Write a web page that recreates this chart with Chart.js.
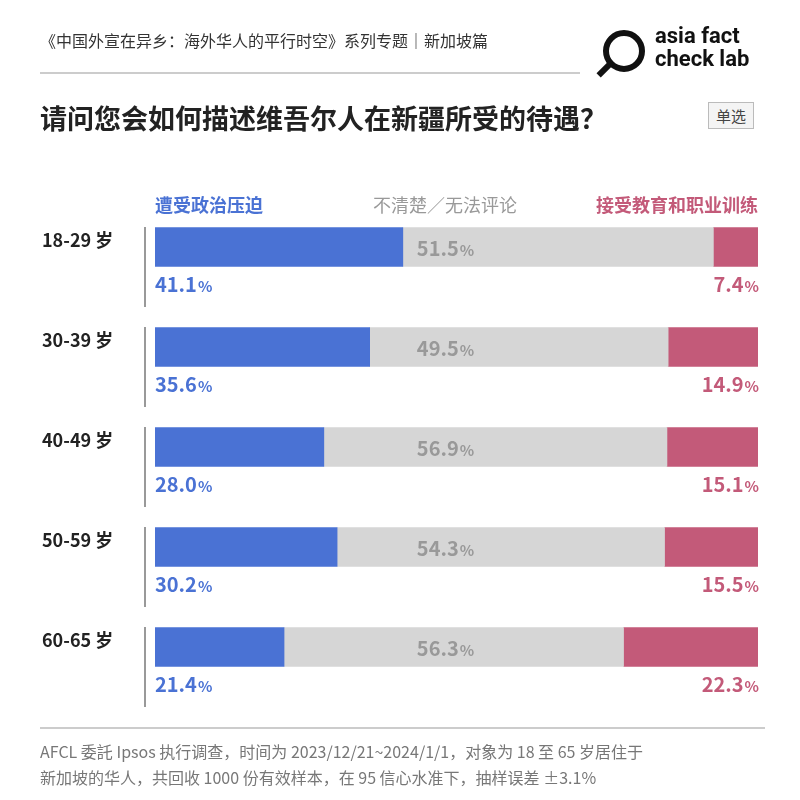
<!DOCTYPE html>
<html lang="zh">
<head>
<meta charset="UTF-8">
<title>Chart</title>
<script src="https://cdn.jsdelivr.net/npm/chart.js"></script>
<style>
    body { margin: 0; background: #fff; font-family: "Noto Sans CJK SC", "Noto Sans", sans-serif; }
    #wrap { position: relative; width: 800px; height: 800px; overflow: hidden; }
    canvas { position: absolute; left: 0; top: 0; }
    .t { position: absolute; white-space: nowrap; }
    #head { left: 40px; top: 28px; font-size: 16px; color: #333; }
    #hline { position: absolute; left: 40px; top: 72px; width: 540px; height: 2px; background: #ccc; }
    #title { left: 40px; top: 98px; font-size: 27px; font-weight: bold; color: #222; }
    #single { left: 708px; top: 102px; font-size: 15px; color: #444; border: 1px solid #bbb; padding: 2px 7px; background: #f4f4f4; }
    #logo { left: 655px; top: 24px; font-size: 22px; font-weight: bold; color: #111; line-height: 23px; font-family: Roboto, sans-serif; }
    #ring { position: absolute; left: 603px; top: 30px; width: 30px; height: 30px; border: 6px solid #111; border-radius: 50%; }
    #handle { position: absolute; left: 596px; top: 66px; width: 18px; height: 6px; background: #111; transform: rotate(-45deg); }
    #fline { position: absolute; left: 40px; top: 727px; width: 725px; height: 2px; background: #ccc; }
    #foot { left: 40px; top: 738px; font-size: 16px; color: #777; line-height: 26px; }
</style>
</head>
<body>
<div id="wrap">
    <canvas id="c" width="800" height="800"></canvas>
    <div class="t" id="head">《中国外宣在异乡：海外华人的平行时空》系列专题｜新加坡篇</div>
    <div id="hline"></div>
    <div id="ring"></div><div id="handle"></div>
    <div class="t" id="logo">asia fact<br>check lab</div>
    <div class="t" id="title">请问您会如何描述维吾尔人在新疆所受的待遇？</div>
    <div class="t" id="single">单选</div>
    <div id="fline"></div>
    <div class="t" id="foot">AFCL 委託 Ipsos 执行调查，时间为 2023/12/21~2024/1/1，对象为 18 至 65 岁居住于<br>新加坡的华人，共回收 1000 份有效样本，在 95 信心水准下，抽样误差 ±3.1%</div>
</div>
<script>
    const categories = ['18-29 岁', '30-39 岁', '40-49 岁', '50-59 岁', '60-65 岁'];
    const persecuted = [41.1, 35.6, 28.0, 30.2, 21.4];
    const unsure = [51.5, 49.5, 56.9, 54.3, 56.3];
    const training = [7.4, 14.9, 15.1, 15.5, 22.3];
    const seriesNames = ['遭受政治压迫', '不清楚／无法评论', '接受教育和职业训练'];

    const BLUE = '#4a72d4', GRAY = '#d6d6d6', PINK = '#c35a79';
    const FONT = '"Noto Sans CJK SC", "Noto Sans", sans-serif';

    function pct(ctx, text, x, y, color, align) {
        ctx.fillStyle = color;
        ctx.textBaseline = 'middle';
        ctx.font = 'bold 20px ' + FONT;
        const w1 = ctx.measureText(text).width;
        ctx.font = 'bold 15px ' + FONT;
        const w2 = ctx.measureText('%').width;
        let left = align === 'left' ? x : align === 'right' ? x - w1 - w2 : x - (w1 + w2) / 2;
        ctx.textAlign = 'left';
        ctx.font = 'bold 20px ' + FONT;
        ctx.fillText(text, left, y);
        ctx.font = 'bold 15px ' + FONT;
        ctx.fillText('%', left + w1 + 1, y + 2);
    }

    const labels = {
        id: 'labels',
        afterDatasetsDraw(chart) {
            const ctx = chart.ctx;
            const area = chart.chartArea;
            ctx.save();
            ctx.font = 'bold 18px ' + FONT;
            ctx.textBaseline = 'middle';
            ctx.textAlign = 'left';
            ctx.fillStyle = BLUE;
            ctx.fillText(seriesNames[0], area.left, 205);
            ctx.fillStyle = '#999';
            ctx.font = '18px ' + FONT;
            ctx.textAlign = 'center';
            ctx.fillText(seriesNames[1], 445, 205);
            ctx.fillStyle = PINK;
            ctx.font = 'bold 18px ' + FONT;
            ctx.textAlign = 'right';
            ctx.fillText(seriesNames[2], area.right, 205);

            const m0 = chart.getDatasetMeta(0);
            categories.forEach((cat, i) => {
                const y = m0.data[i].y;
                ctx.fillStyle = '#222';
                ctx.font = 'bold 18px ' + FONT;
                ctx.textAlign = 'left';
                ctx.fillText(cat, 42, y - 7);
                ctx.fillStyle = '#999';
                ctx.fillRect(144, y - 20, 2, 80);
                pct(ctx, persecuted[i].toFixed(1), area.left, y + 37, BLUE, 'left');
                pct(ctx, unsure[i].toFixed(1), 445, y + 1, '#999', 'center');
                pct(ctx, training[i].toFixed(1), area.right, y + 37, PINK, 'right');
            });
            ctx.restore();
        }
    };

    new Chart(document.getElementById('c'), {
        type: 'bar',
        data: {
            labels: categories,
            datasets: [
                { label: seriesNames[0], data: persecuted, backgroundColor: BLUE },
                { label: seriesNames[1], data: unsure, backgroundColor: GRAY },
                { label: seriesNames[2], data: training, backgroundColor: PINK }
            ]
        },
        options: {
            indexAxis: 'y',
            responsive: false,
            animation: false,
            layout: { padding: { left: 155, right: 42, top: 197, bottom: 103 } },
            datasets: { bar: { barThickness: 39 } },
            scales: {
                x: { stacked: true, min: 0, max: 100, display: false },
                y: { stacked: true, display: false }
            },
            plugins: { legend: { display: false }, tooltip: { enabled: false } }
        },
        plugins: [labels]
    });
</script>
</body>
</html>
